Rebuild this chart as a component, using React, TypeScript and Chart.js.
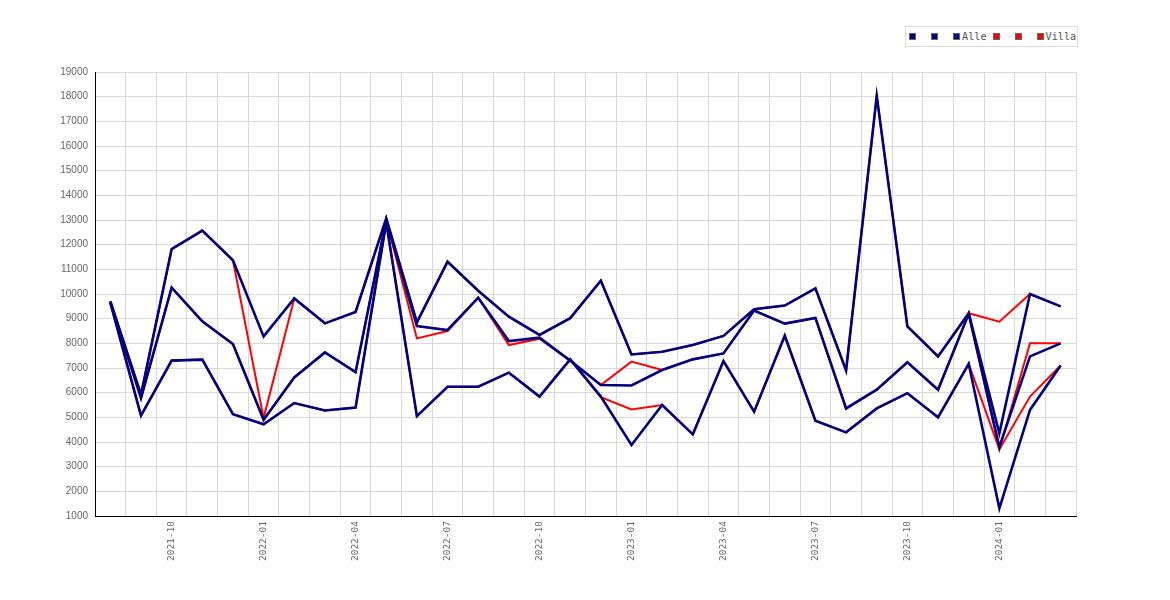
import { Chart, registerables } from "chart.js"
import React, { useEffect, useRef } from "react"

Chart.register(...registerables)

const months = [
  "2021-08", "2021-09", "2021-10", "2021-11", "2021-12",
  "2022-01", "2022-02", "2022-03", "2022-04", "2022-05", "2022-06", "2022-07",
  "2022-08", "2022-09", "2022-10", "2022-11", "2022-12",
  "2023-01", "2023-02", "2023-03", "2023-04", "2023-05", "2023-06", "2023-07",
  "2023-08", "2023-09", "2023-10", "2023-11", "2023-12",
  "2024-01", "2024-02", "2024-03",
]

const alleHigh = [
  9700, 5920, 11820, 12570, 11370, 8280, 9820, 8810, 9270, 13070, 8850, 11310,
  10130, 9080, 8340, 9020, 10540, 7550, 7660, 7930, 8300, 9380, 9530, 10230,
  6900, 18030, 8690, 7470, 9220, 4350, 10000, 9500,
]
const alleMid = [
  9680, 5780, 10260, 8890, 7970, 4900, 6620, 7630, 6830, 13000, 8700, 8540,
  9850, 8090, 8230, 7300, 6310, 6290, 6920, 7350, 7590, 9330, 8800, 9030,
  5360, 6120, 7230, 6120, 9200, 3800, 7470, 8000,
]
const alleLow = [
  9650, 5070, 7300, 7340, 5130, 4720, 5580, 5280, 5400, 12900, 5050, 6240,
  6240, 6810, 5840, 7350, 5840, 3880, 5500, 4310, 7280, 5230, 8310, 4860,
  4390, 5360, 5980, 5000, 7170, 1310, 5300, 7100,
]

const villaHigh = [
  9700, 5920, 11820, 12570, 11370, 4970, 9820, 8810, 9270, 13070, 8850, 11310,
  10130, 9080, 8340, 9020, 10540, 7550, 7660, 7930, 8300, 9380, 9530, 10230,
  6900, 18030, 8690, 7470, 9220, 8880, 10000, 9500,
]
const villaMid = [
  9680, 5780, 10260, 8890, 7970, 4900, 6620, 7630, 6830, 13000, 8200, 8500,
  9850, 7930, 8190, 7300, 6310, 7260, 6920, 7350, 7590, 9330, 8800, 9030,
  5360, 6120, 7230, 6120, 9200, 3700, 8000, 8000,
]
const villaLow = [
  9650, 5070, 7300, 7340, 5130, 4720, 5580, 5280, 5400, 12900, 5050, 6240,
  6240, 6810, 5840, 7350, 5820, 5320, 5500, 4310, 7280, 5230, 8310, 4860,
  4390, 5360, 5980, 5000, 7170, 3700, 5840, 7100,
]

const seriesLabels = ["", "", "Alle", "", "", "Villa"]
const seriesData = [alleHigh, alleMid, alleLow, villaHigh, villaMid, villaLow]
const seriesColors = ["#000080", "#000080", "#000080", "#ff0000", "#ff0000", "#ff0000"]

const yMin = 1000
const yMax = 19000
const yStep = 1000
const labelMonths = ["01", "04", "07", "10"]

const App: React.FC = () => {
  const chartRef = useRef<HTMLCanvasElement>(null)
  const chartInstanceRef = useRef<Chart | null>(null)

  useEffect(() => {
    const ctx = chartRef.current?.getContext("2d")

    if (ctx) {
      chartInstanceRef.current = new Chart(ctx, {
        type: "line",
        data: {
          labels: months,
          datasets: seriesData.map((d, i) => ({
            label: seriesLabels[i],
            data: d,
            borderColor: seriesColors[i],
            backgroundColor: seriesColors[i],
            // blue drawn a bit wider so the red underneath doesn't bleed through
            borderWidth: i < 3 ? 2.6 : 2,
            pointRadius: 0,
            tension: 0,
            fill: false,
          })),
        },
        options: {
          animation: false,
          responsive: true,
          maintainAspectRatio: false,
          layout: { padding: { top: 64, right: 86, left: 0, bottom: 0 } },
          plugins: {
            legend: { display: false },
            tooltip: { enabled: false },
          },
          scales: {
            x: {
              offset: true,
              grid: { offset: true, color: "#d9d9d9", drawTicks: false },
              border: { color: "#000", width: 1 },
              ticks: {
                autoSkip: false,
                minRotation: 90,
                maxRotation: 90,
                padding: 5,
                color: "#666",
                font: { family: "'DejaVu Sans Mono', monospace", size: 9.5 },
                callback: function (_v, i) {
                  const m = months[i]
                  return labelMonths.includes(m.slice(5)) ? m : ""
                },
              },
              afterFit: (scale) => {
                scale.height = 76
              },
            },
            y: {
              min: yMin,
              max: yMax,
              grid: { color: "#d9d9d9", drawTicks: false },
              border: { color: "#000", width: 1 },
              ticks: {
                stepSize: yStep,
                padding: 7,
                color: "#666",
                font: { family: "'Liberation Sans', sans-serif", size: 10 },
                callback: (v) => String(v),
              },
              afterFit: (scale) => {
                scale.width = 87
              },
            },
          },
        },
      })
    }

    return () => {
      chartInstanceRef.current?.destroy()
    }
  }, [])

  return (
    <div style={{ position: "relative", width: 1154, height: 584 }}>
      <canvas ref={chartRef}></canvas>
      <div
        style={{
          position: "absolute",
          left: 897,
          top: 18,
          height: 19,
          border: "1px solid #dcdcdc",
          display: "flex",
          alignItems: "center",
          padding: "0 1px 0 3px",
          fontFamily: "'DejaVu Sans Mono', monospace",
          fontSize: 10.2,
          color: "#555",
          background: "#fff",
        }}
      >
        {seriesLabels.map((label, i) => (
          <React.Fragment key={i}>
            <span
              style={{
                display: "inline-block",
                width: 5,
                height: 5,
                background: seriesColors[i],
                border: "1px solid #666",
                marginRight: label ? 2 : 15,
              }}
            />
            {label && <span style={{ marginRight: i < seriesLabels.length - 1 ? 6 : 0 }}>{label}</span>}
          </React.Fragment>
        ))}
      </div>
    </div>
  )
}

export default App
